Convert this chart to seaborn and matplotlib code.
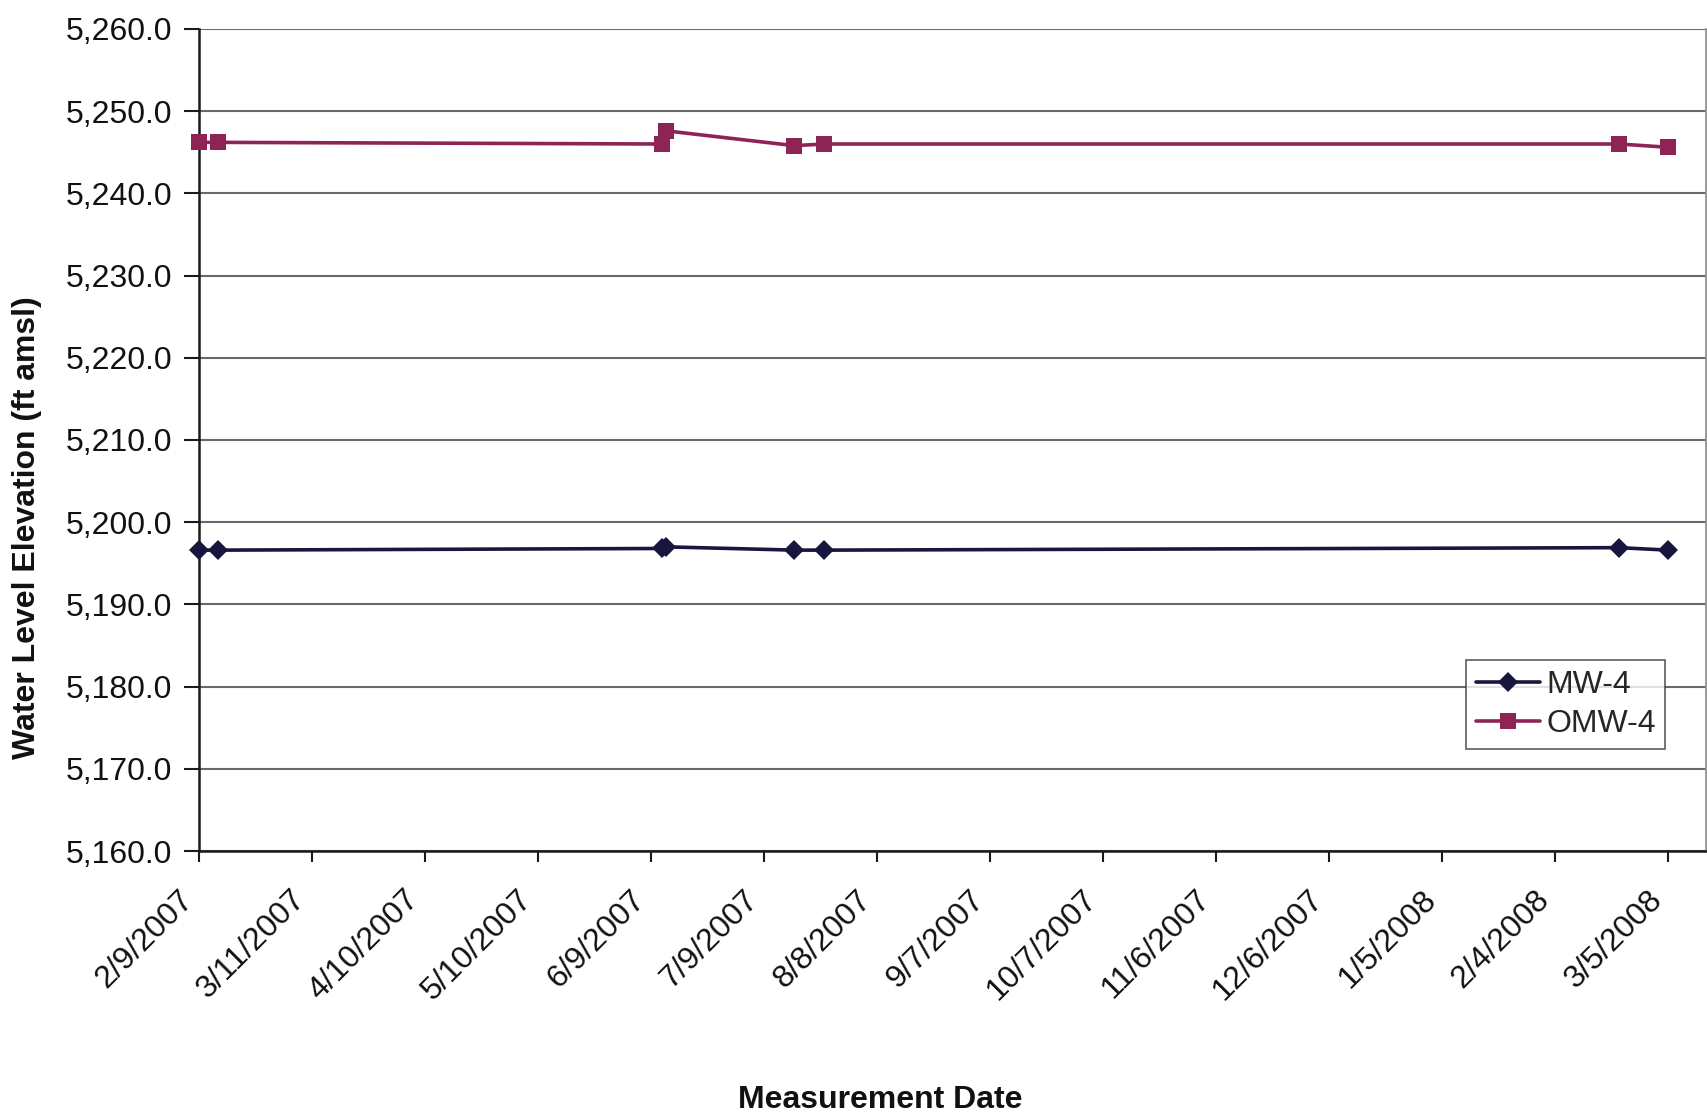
import matplotlib
matplotlib.use("Agg")
import matplotlib.pyplot as plt
from matplotlib.ticker import FuncFormatter, MultipleLocator
import pandas as pd
import seaborn as sns

# Measurement dates and water level elevations (ft amsl)
dates = ["2007-02-09", "2007-02-14", "2007-06-12", "2007-06-13",
         "2007-07-17", "2007-07-25", "2008-02-21", "2008-03-05"]
mw4 = [5196.6, 5196.6, 5196.8, 5197.0, 5196.6, 5196.6, 5196.9, 5196.6]
omw4 = [5246.2, 5246.2, 5246.0, 5247.6, 5245.8, 5246.0, 5246.0, 5245.6]

# Axis tick dates (every 30 days) and y range
tick_start = "2007-02-09"
tick_count = 14
tick_step_days = 30
y_min, y_max, y_step = 5160.0, 5260.0, 10.0

series_names = ["MW-4", "OMW-4"]
series_colors = {"MW-4": "#16163f", "OMW-4": "#8e2356"}
series_markers = {"MW-4": "D", "OMW-4": "s"}

df = pd.DataFrame({
    "date": pd.to_datetime(dates * 2),
    "elev": mw4 + omw4,
    "well": [series_names[0]] * len(mw4) + [series_names[1]] * len(omw4),
})

sns.set_style("white")
plt.rcParams["font.family"] = ["Liberation Sans", "DejaVu Sans"]

FS = 23

fig = plt.figure(figsize=(17.08, 11.12), dpi=100)
ax = fig.add_axes([0.1165, 0.2347, 0.8823, 0.7393])

sns.lineplot(data=df, x="date", y="elev", hue="well", style="well",
             palette=series_colors, markers=series_markers, dashes=False,
             linewidth=2.6, markersize=10, markeredgewidth=0,
             ax=ax, sort=True, legend=True)

# OMW-4 squares are a little larger than the diamonds; markers sit over the axis
for line in ax.lines:
    line.set_clip_on(False)
    line.set_zorder(5)
    if line.get_marker() == "s":
        line.set_markersize(11)

ticks = pd.date_range(tick_start, periods=tick_count, freq=f"{tick_step_days}D")
ax.set_xticks(ticks)
ax.set_xticklabels([f"{d.month}/{d.day}/{d.year}" for d in ticks],
                   rotation=45, ha="right", rotation_mode="default")
ax.set_xlim(pd.Timestamp(tick_start), pd.Timestamp("2008-03-15"))

ax.set_ylim(y_min, y_max)
ax.yaxis.set_major_locator(MultipleLocator(y_step))
ax.yaxis.set_major_formatter(FuncFormatter(lambda v, p: f"{v:,.1f}"))

ax.grid(axis="y", color="#6a6a6a", linewidth=1.5)
ax.grid(axis="x", visible=False)

for side in ["left", "bottom"]:
    ax.spines[side].set_color("#1a1a1a")
    ax.spines[side].set_linewidth(1.8)
ax.spines["top"].set_visible(False)
ax.spines["right"].set_color("#8a8a8a")
ax.spines["right"].set_linewidth(1.2)

ax.tick_params(axis="y", which="major", direction="out", length=11, width=1.5,
               color="#1a1a1a", labelsize=FS, pad=8, left=True)
ax.tick_params(axis="x", which="major", direction="out", length=8, width=1.5,
               color="#1a1a1a", labelsize=FS, pad=16, bottom=True)
for lbl in ax.get_yticklabels() + ax.get_xticklabels():
    lbl.set_color("#111111")

ax.set_xlabel("Measurement Date", fontsize=FS, fontweight="bold", color="#111111")
ax.set_ylabel("Water Level Elevation (ft amsl)", fontsize=FS, fontweight="bold",
              color="#111111")
ax.xaxis.set_label_coords(0.452, -0.285)
ax.yaxis.set_label_coords(-0.104, 0.393)

leg = ax.legend(title=None, loc="upper left", bbox_to_anchor=(0.841, 0.232),
                fontsize=FS, frameon=True, fancybox=False, handlelength=2.0,
                handletextpad=0.2, borderpad=0.3, labelspacing=0.3,
                borderaxespad=0)
leg.get_frame().set_edgecolor("#333333")
leg.get_frame().set_linewidth(1.2)
leg.set_zorder(10)

fig.savefig("out.png", dpi=100, facecolor="white")
